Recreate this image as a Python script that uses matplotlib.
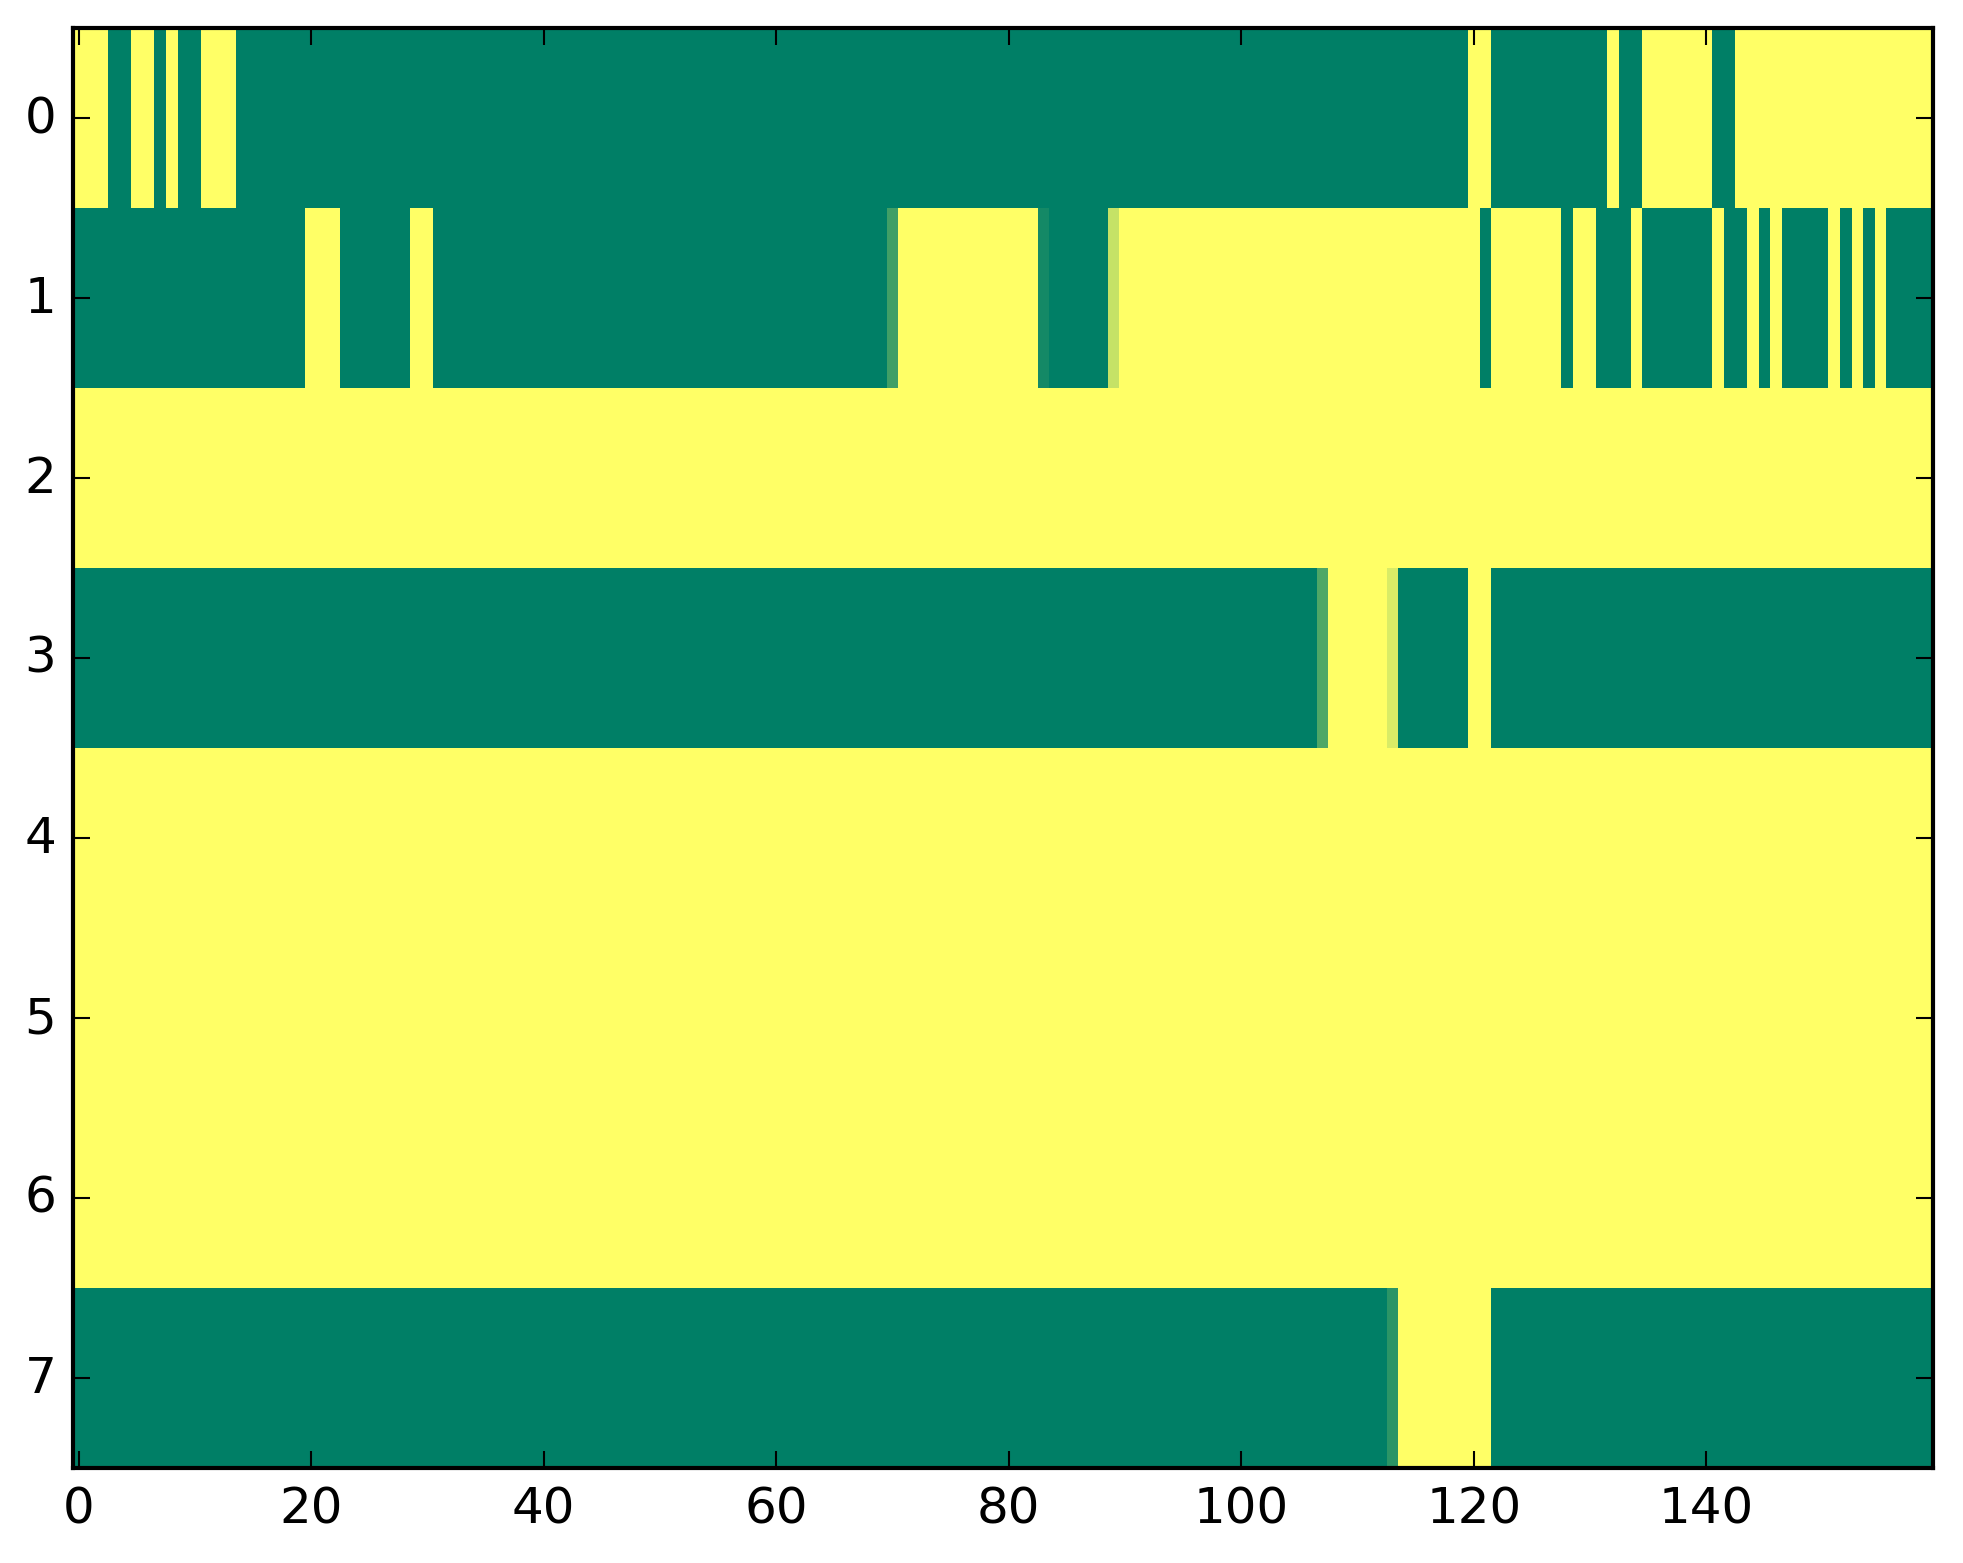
import numpy as np
import matplotlib
matplotlib.use("Agg")
import matplotlib.pyplot as plt

# Run-length encoded rows: (value, count); 0 = green, 1 = yellow
row0 = [(1, 3), (0, 2), (1, 2), (0, 1), (1, 1), (0, 2), (1, 3), (0, 106), (1, 2),
        (0, 10), (1, 1), (0, 2), (1, 6), (0, 2), (1, 17)]
row1 = [(0, 20), (1, 3), (0, 6), (1, 2), (0, 39), (0.25, 1), (1, 12), (0.08, 1), (0, 5),
        (0.77, 1), (1, 31), (0, 1), (1, 6), (0, 1), (1, 2), (0, 3), (1, 1), (0, 6),
        (1, 1), (0, 2), (1, 1), (0, 1), (1, 1), (0, 4), (1, 1), (0, 1), (1, 1), (0, 1),
        (1, 1), (0, 4)]
row2 = [(1, 160)]
row3 = [(0, 107), (0.31, 1), (1, 5), (0.85, 1), (0, 6), (1, 2), (0, 38)]
row4 = [(1, 160)]
row5 = [(1, 160)]
row6 = [(1, 160)]
row7 = [(0, 113), (0.17, 1), (1, 8), (0, 38)]

rows = [row0, row1, row2, row3, row4, row5, row6, row7]

xticks = [0, 20, 40, 60, 80, 100, 120, 140]
yticks = [0, 1, 2, 3, 4, 5, 6, 7]


def expand(runs):
    out = []
    for v, n in runs:
        out.extend([v] * n)
    return out


data = np.array([expand(r) for r in rows], dtype=float)

plt.style.use("classic")
W, H, DPI = 1963, 1564, 300
fig = plt.figure(figsize=(W / DPI, H / DPI), dpi=DPI, facecolor="white")
ax = fig.add_axes([73 / W, (H - 1469) / H, 1860 / W, 1440 / H])
ax.imshow(data, cmap="summer", vmin=0, vmax=1, aspect="auto",
          interpolation="nearest")
ax.set_xticks(xticks)
ax.set_yticks(yticks)
ax.set_xlim(-0.5, data.shape[1] - 0.5)
ax.set_ylim(data.shape[0] - 0.5, -0.5)
ax.tick_params(direction="in", top=True, right=True, labelsize=12)
for s in ax.spines.values():
    s.set_linewidth(1.0)

fig.savefig("out.png", dpi=DPI, facecolor="white")
